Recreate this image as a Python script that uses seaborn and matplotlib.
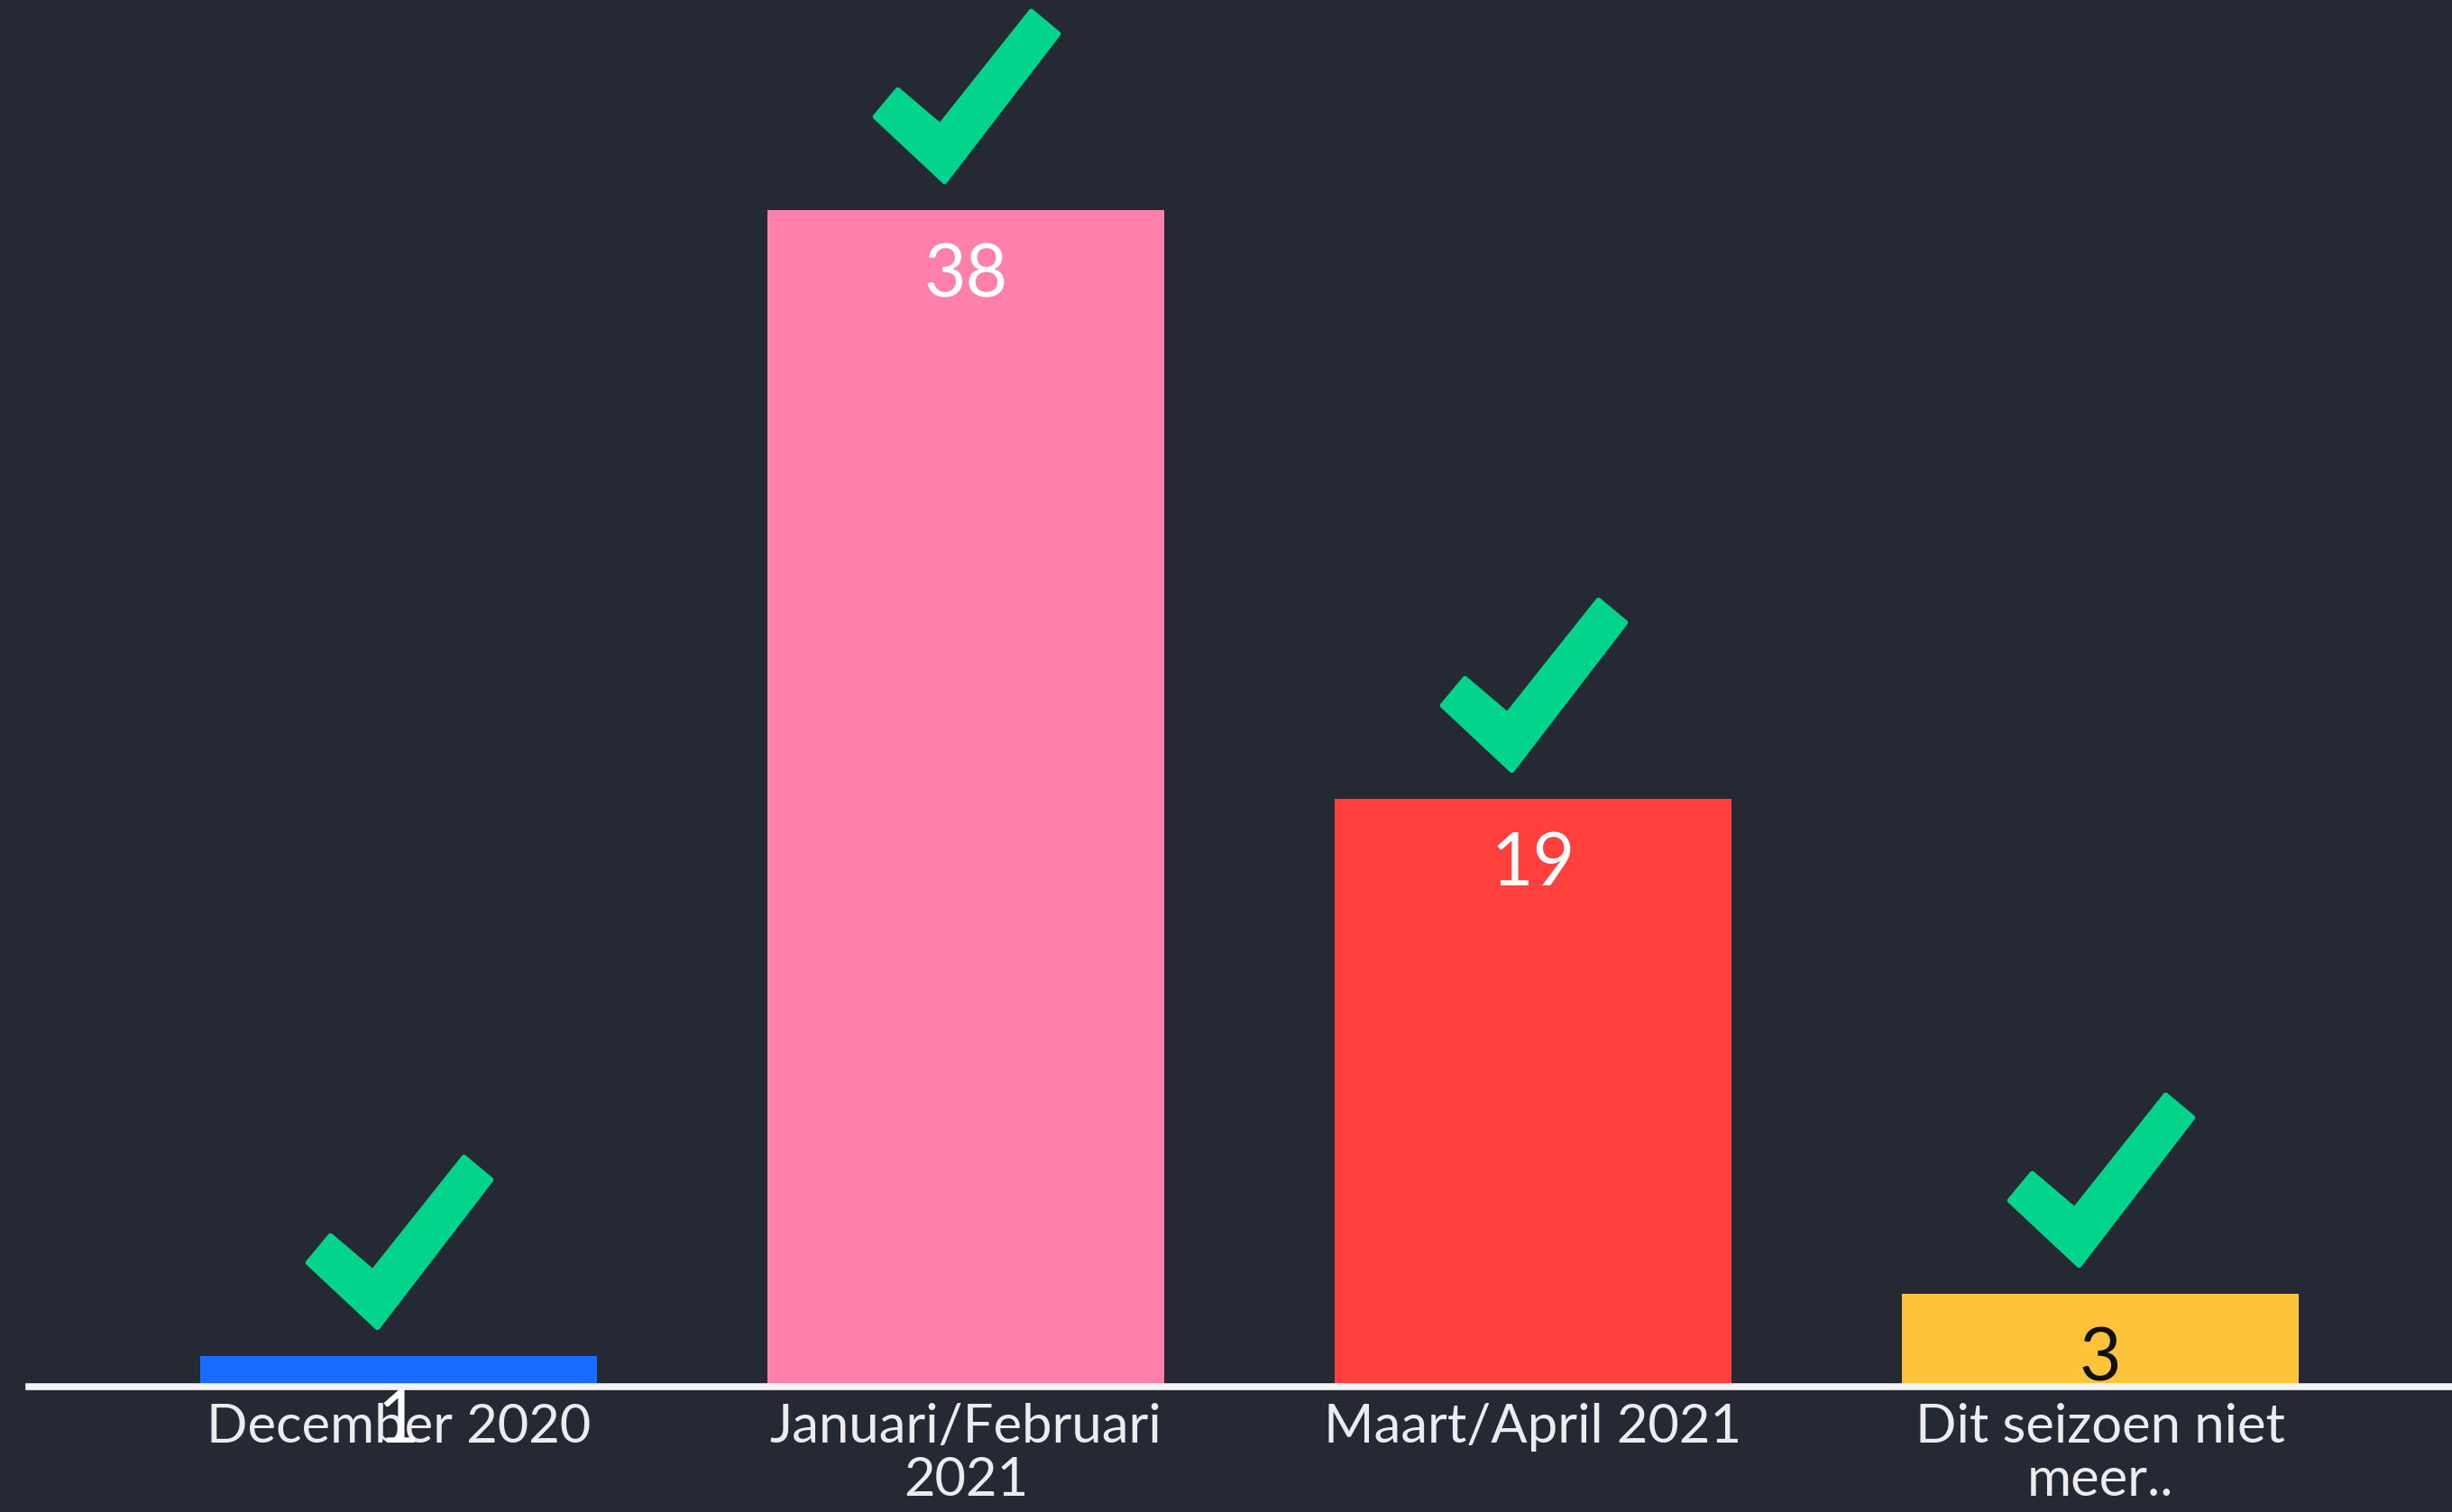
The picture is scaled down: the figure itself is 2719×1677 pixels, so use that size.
import matplotlib
matplotlib.use("Agg")
import matplotlib.pyplot as plt
from matplotlib.path import Path
import seaborn as sns
import numpy as np

categories = ["December 2020", "Januari/Februari\n2021", "Maart/April 2021", "Dit seizoen niet\nmeer.."]
values = [1, 38, 19, 3]
bar_colors = ["#1a6bff", "#ff80aa", "#ff403d", "#fdc33a"]
label_colors = ["#ffffff", "#ffffff", "#ffffff", "#111111"]

BG = "#252934"
CHECK = "#03d48c"

sns.set_theme(style="dark")
plt.rcParams["font.family"] = ["Lato", "DejaVu Sans"]

fig = plt.figure(figsize=(27.19, 16.77), dpi=100, facecolor=BG)
ax = fig.add_axes([32 / 2719, 1 - 1538 / 1677, 1 - 32 / 2719, 1538 / 1677])
ax.set_facecolor(BG)

sns.barplot(x=categories, y=values, hue=categories, palette=bar_colors,
            saturation=1, width=0.7, legend=False, ax=ax, linewidth=0)

ax.set_xlim(-0.652, 3.62)
ax.set_ylim(0, 44.8)

for s in ["top", "right", "left"]:
    ax.spines[s].set_visible(False)
ax.spines["bottom"].set_color("#f4f4f6")
ax.spines["bottom"].set_linewidth(5.5)
ax.spines["bottom"].set_zorder(5)
ax.set_yticks([])
ax.set_xlabel("")
ax.set_ylabel("")
ax.tick_params(axis="x", length=0, pad=13, colors="#ececef", labelsize=43)
for t in ax.get_xticklabels():
    t.set_linespacing(1.12)
ax.grid(False)

# value labels just inside top of each bar
for i, (v, c) in enumerate(zip(values, label_colors)):
    ax.annotate(str(v), xy=(i, v), xytext=(0, -36), textcoords="offset pixels",
                ha="center", va="top", fontsize=58, color=c, zorder=6)

# check mark marker (relative to bar top centre, y up)
verts = [(-101, 104), (-76, 134), (-29, 94), (72, 221), (102, 196), (-24, 32), (-101, 104)]
codes = [Path.MOVETO] + [Path.LINETO] * 5 + [Path.CLOSEPOLY]
check_path = Path(np.array(verts, dtype=float), codes)
msize = 2 * 221 * 72 / 100
ax.plot(range(len(values)), values, linestyle="none", marker=check_path,
        markersize=msize, markerfacecolor=CHECK, markeredgecolor=CHECK,
        markeredgewidth=4, zorder=7, clip_on=False)

fig.savefig("out.png", dpi=100, facecolor=BG)
